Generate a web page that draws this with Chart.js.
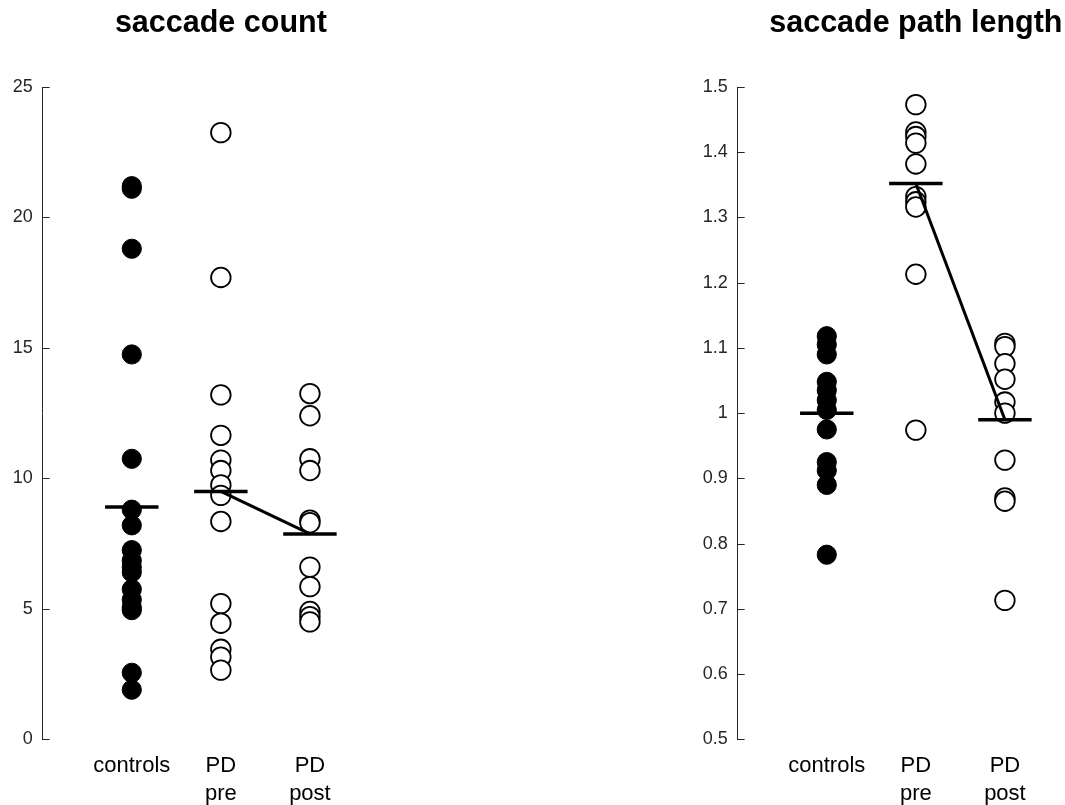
<!DOCTYPE html>
<html>
<head>
<meta charset="utf-8">
<script src="https://cdn.jsdelivr.net/npm/chart.js@4.4.1/dist/chart.umd.min.js"></script>
<style>
  html, body { margin: 0; padding: 0; background: #fff; width: 1065px; height: 805px; overflow: hidden; }
  #wrap { position: relative; width: 1065px; height: 805px; overflow: hidden; }
  canvas { position: absolute; top: 0; }
  #c1 { left: 0px; }
  #c2 { left: 695px; }
</style>
</head>
<body>
<div id="wrap">
  <canvas id="c1" width="442" height="805"></canvas>
  <canvas id="c2" width="442" height="805"></canvas>
</div>
<script>
// ---- data ----
const categories = [['controls'], ['PD', 'pre'], ['PD', 'post']];
const categoryPositions = [1, 2, 3];

// saccade count
const countTicks = [0, 5, 10, 15, 20, 25];
const countControls = [21.2, 21.1, 18.8, 14.75, 10.75, 8.8, 8.2, 7.25, 6.85, 6.6, 6.4, 5.75, 5.35, 5.05, 4.95, 2.55, 1.9];
const countPre = [23.25, 17.7, 13.2, 11.65, 10.7, 10.3, 9.75, 9.35, 8.35, 5.2, 4.45, 3.45, 3.15, 2.65];
const countPost = [13.25, 12.4, 10.75, 10.3, 8.4, 8.3, 6.6, 5.85, 4.9, 4.7, 4.5];
const countMeans = [8.9, 9.5, 7.87];

// saccade path length
const lengthTicks = [0.5, 0.6, 0.7, 0.8, 0.9, 1.0, 1.1, 1.2, 1.3, 1.4, 1.5];
const lengthControls = [1.118, 1.105, 1.09, 1.048, 1.035, 1.02, 1.005, 0.975, 0.925, 0.912, 0.89, 0.783];
const lengthPre = [1.473, 1.431, 1.424, 1.414, 1.382, 1.332, 1.324, 1.316, 1.213, 0.974];
const lengthPost = [1.107, 1.102, 1.076, 1.052, 1.017, 1.0, 0.928, 0.87, 0.865, 0.713];
const lengthMeans = [1.0, 1.352, 0.99];

const AXIS = '#262626';
const FONT = "'Liberation Sans', Arial, Helvetica, sans-serif";

function pts(xpos, arr) { return arr.map(v => ({ x: xpos, y: v })); }
function meanBar(xpos, m) { return [{ x: xpos - 0.3, y: m }, { x: xpos + 0.3, y: m }]; }

const inwardTicks = {
  id: 'inwardTicks',
  afterDatasetsDraw(chart) {
    const s = chart.scales.y;
    const ctx = chart.ctx;
    ctx.save();
    ctx.strokeStyle = AXIS;
    ctx.lineWidth = 1;
    s.ticks.forEach(t => {
      const y = Math.round(s.getPixelForValue(t.value)) + 0.5;
      ctx.beginPath();
      ctx.moveTo(chart.chartArea.left, y);
      ctx.lineTo(chart.chartArea.left + 7, y);
      ctx.stroke();
    });
    ctx.restore();
  }
};

function makeChart(id, title, tickVals, ctrl, pre, post, means, fmt) {
  const datasets = [
    { data: meanBar(categoryPositions[0], means[0]), showLine: true, borderColor: '#000', borderWidth: 3.5, pointRadius: 0, order: 0 },
    { data: meanBar(categoryPositions[1], means[1]), showLine: true, borderColor: '#000', borderWidth: 3.5, pointRadius: 0, order: 0 },
    { data: meanBar(categoryPositions[2], means[2]), showLine: true, borderColor: '#000', borderWidth: 3.5, pointRadius: 0, order: 0 },
    { data: [{ x: categoryPositions[1], y: means[1] }, { x: categoryPositions[2], y: means[2] }], showLine: true, borderColor: '#000', borderWidth: 3, pointRadius: 0, order: 0 },
    { data: pts(categoryPositions[0], ctrl), backgroundColor: '#000', borderColor: '#000', borderWidth: 1, pointRadius: 9.6, order: 1 },
    { data: pts(categoryPositions[1], pre), backgroundColor: '#fff', borderColor: '#000', borderWidth: 1.8, pointRadius: 9.8, order: 1 },
    { data: pts(categoryPositions[2], post), backgroundColor: '#fff', borderColor: '#000', borderWidth: 1.8, pointRadius: 9.8, order: 1 }
  ];
  datasets.forEach(d => { d.clip = false; d.pointHoverRadius = d.pointRadius; });
  return new Chart(document.getElementById(id), {
    type: 'scatter',
    data: { datasets },
    plugins: [inwardTicks],
    options: {
      responsive: false,
      animation: false,
      events: [],
      layout: { padding: { left: 0, right: 43, top: 0, bottom: 0 } },
      plugins: {
        legend: { display: false },
        tooltip: { enabled: false },
        title: {
          display: true, text: title, color: '#000', fullSize: false,
          font: { family: FONT, size: 30.5, weight: 'bold', lineHeight: 1.2 },
          padding: { top: 5.2, bottom: 45.2 }
        }
      },
      scales: {
        x: {
          type: 'linear', min: 0, max: 4,
          grid: { display: false, drawTicks: false },
          border: { display: false },
          afterBuildTicks: s => { s.ticks = categoryPositions.map(v => ({ value: v })); },
          afterFit: s => { s.height = 65.7; },
          ticks: {
            autoSkip: false, maxRotation: 0, minRotation: 0, padding: 13,
            color: '#000',
            font: { family: FONT, size: 22, lineHeight: 1.26 },
            callback: (v, i) => categories[i]
          }
        },
        y: {
          type: 'linear', min: tickVals[0], max: tickVals[tickVals.length - 1],
          grid: { display: false, drawTicks: false },
          border: { display: true, color: AXIS, width: 1 },
          afterBuildTicks: s => { s.ticks = tickVals.map(v => ({ value: v })); },
          afterFit: s => { s.width = 42.7; },
          ticks: {
            padding: 10, color: AXIS,
            font: { family: FONT, size: 18 },
            callback: fmt
          }
        }
      }
    }
  });
}

makeChart('c1', 'saccade count', countTicks, countControls, countPre, countPost, countMeans, v => String(v));
makeChart('c2', 'saccade path length', lengthTicks, lengthControls, lengthPre, lengthPost, lengthMeans, v => String(Number(v.toFixed(1))));
</script>
</body>
</html>
